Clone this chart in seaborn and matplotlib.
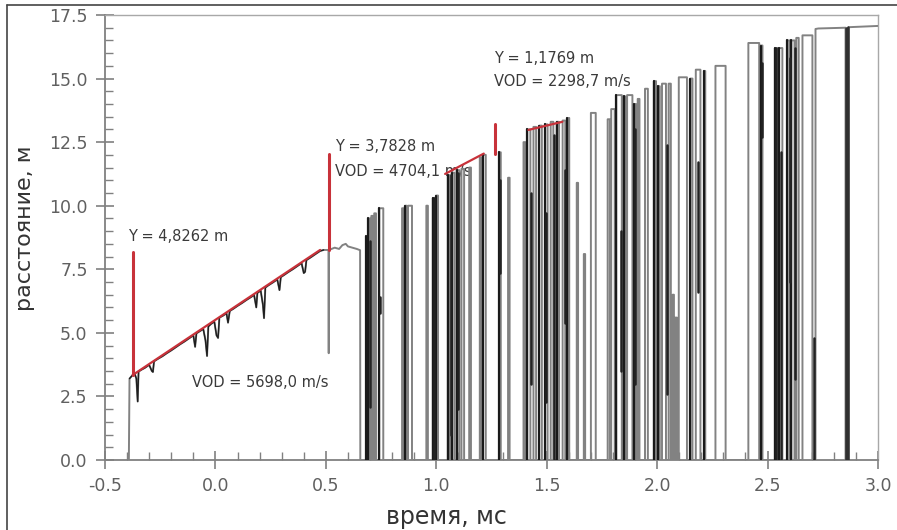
import matplotlib
matplotlib.use("Agg")
import matplotlib.pyplot as plt
from matplotlib.lines import Line2D
from matplotlib.ticker import MultipleLocator, FormatStrFormatter
import seaborn as sns
import pandas as pd

# ---------------- data ----------------
# initial noisy ramp (time, ms ; distance, m)
ramp_t = [-0.392, -0.389, -0.375, -0.365, -0.358, -0.352, -0.348, -0.335, -0.320, -0.300,
          -0.288, -0.283, -0.278, -0.260, -0.240, -0.220, -0.200, -0.180, -0.160, -0.140,
          -0.120, -0.100, -0.092, -0.086, -0.070, -0.055, -0.045, -0.038, -0.032, -0.020,
          -0.005, 0.005, 0.012, 0.018, 0.035, 0.050, 0.057, 0.065, 0.080, 0.100,
          0.120, 0.140, 0.160, 0.175, 0.185, 0.190, 0.205, 0.215, 0.220, 0.226,
          0.240, 0.260, 0.280, 0.290, 0.296, 0.310, 0.330, 0.350, 0.370, 0.390,
          0.400, 0.406, 0.412, 0.430, 0.450, 0.474, 0.490]
ramp_y = [0.00, 3.20, 3.34, 3.38, 3.20, 2.30, 3.48, 3.55, 3.62, 3.74,
          3.50, 3.46, 3.88, 3.98, 4.08, 4.20, 4.31, 4.43, 4.55, 4.66,
          4.78, 4.90, 4.45, 4.98, 5.07, 5.15, 4.70, 4.09, 5.25, 5.35,
          5.44, 4.90, 4.80, 5.60, 5.68, 5.77, 5.40, 5.86, 5.94, 6.06,
          6.17, 6.29, 6.40, 6.49, 6.00, 6.57, 6.66, 6.10, 5.58, 6.78,
          6.87, 6.98, 7.10, 6.68, 7.19, 7.27, 7.39, 7.50, 7.62, 7.74,
          7.35, 7.40, 7.86, 7.96, 8.08, 8.22, 8.26]
# plateau after the first red marker
plat_t = [0.512, 0.513, 0.514, 0.520, 0.540, 0.560, 0.575, 0.590, 0.600, 0.620, 0.640, 0.655, 0.656]
plat_y = [8.26, 4.20, 8.28, 8.28, 8.35, 8.30, 8.45, 8.50, 8.40, 8.35, 8.30, 8.25, 0.00]

# pulses of the trace after 0.65 ms: start, end, top level, dark (overlapping) flag
pulse_on = [0.683, 0.693, 0.706, 0.719, 0.742, 0.845, 0.858, 0.872, 0.955, 0.984,
            0.999, 1.052, 1.070, 1.092, 1.114, 1.149, 1.197, 1.211, 1.284, 1.325,
            1.395, 1.412, 1.440, 1.466, 1.492, 1.518, 1.545, 1.572, 1.594, 1.636,
            1.668, 1.700, 1.776, 1.792, 1.815, 1.848, 1.864, 1.896, 1.912, 1.945,
            1.985, 2.003, 2.022, 2.052, 2.070, 2.082, 2.098, 2.150, 2.175, 2.212,
            2.264, 2.413, 2.468, 2.533, 2.552, 2.590, 2.608, 2.630, 2.658]
pulse_off = [0.689, 0.700, 0.713, 0.727, 0.760, 0.852, 0.866, 0.890, 0.962, 0.994,
             1.008, 1.062, 1.082, 1.104, 1.126, 1.157, 1.205, 1.224, 1.292, 1.332,
             1.404, 1.426, 1.452, 1.478, 1.504, 1.530, 1.556, 1.584, 1.602, 1.642,
             1.674, 1.722, 1.786, 1.808, 1.840, 1.856, 1.888, 1.904, 1.920, 1.958,
             1.995, 2.012, 2.040, 2.062, 2.076, 2.090, 2.135, 2.160, 2.196, 2.218,
             2.310, 2.462, 2.477, 2.545, 2.567, 2.600, 2.622, 2.641, 2.703]
pulse_top = [8.8, 9.5, 9.6, 9.7, 9.9, 9.9, 10.0, 10.0, 10.0, 10.3,
             10.4, 11.2, 11.3, 11.4, 11.45, 11.5, 11.9, 12.0, 12.1, 11.1,
             12.5, 13.0, 13.1, 13.15, 13.2, 13.3, 13.3, 13.35, 13.45, 10.9,
             8.1, 13.65, 13.4, 13.8, 14.35, 14.3, 14.35, 14.0, 14.2, 14.6,
             14.9, 14.7, 14.8, 14.8, 6.5, 5.6, 15.05, 15.0, 15.35, 15.3,
             15.5, 16.4, 16.3, 16.2, 16.2, 16.5, 16.5, 16.6, 16.7]
pulse_dark = [1, 1, 0, 0, 1, 0, 1, 0, 0, 1,
              1, 1, 1, 1, 0, 0, 0, 1, 1, 0,
              0, 1, 0, 1, 1, 0, 1, 0, 1, 0,
              0, 0, 0, 0, 1, 1, 0, 1, 0, 0,
              1, 1, 0, 0, 0, 0, 0, 1, 0, 1,
              0, 0, 1, 1, 1, 1, 1, 0, 0]

# dark partial strokes where the trace overlaps itself
seg_t = [0.700, 0.745, 0.990, 1.066, 1.098, 1.289, 1.430, 1.498, 1.535, 1.585,
         1.838, 1.900, 2.045, 2.187, 2.477, 2.540, 2.562, 2.600, 2.626, 2.708]
seg_lo = [2.1, 5.8, 0.0, 1.0, 2.0, 7.35, 3.0, 2.3, 0.0, 5.4,
          3.5, 3.0, 2.6, 6.6, 12.7, 0.0, 0.0, 7.0, 3.2, 0.0]
seg_hi = [8.6, 6.4, 10.3, 11.2, 11.3, 11.0, 10.5, 9.7, 12.8, 11.4,
          9.0, 13.0, 12.4, 11.7, 15.6, 16.2, 12.1, 15.8, 16.2, 4.8]

# final plateau
tail_t = [2.717, 2.717, 2.730, 2.853, 2.853, 2.866, 2.866, 3.000]
tail_y = [0.00, 16.95, 16.97, 17.00, 0.00, 0.00, 17.02, 17.07]

# red fit lines and marker lines
fit1_t = [-0.375, 0.474]
fit1_y = [3.34, 8.26]
fit2_t = [1.040, 1.215]
fit2_y = [11.25, 12.05]
fit3_t = [1.417, 1.571]
fit3_y = [12.98, 13.30]
mark_t = [-0.375, 0.512, 1.268]
mark_lo = [3.34, 8.26, 12.05]
mark_hi = [8.17, 12.05, 13.23]

ann_text = ["Y = 4,8262 m", "VOD = 5698,0 m/s", "Y = 3,7828 m", "VOD = 4704,1 m/s",
            "Y = 1,1769 m", "VOD = 2298,7 m/s"]
ann_x = [-0.396, -0.106, 0.542, 0.542, 1.263, 1.263]
ann_y = [8.77, 3.03, 12.31, 11.33, 15.80, 14.88]

xticks = [-0.5, 0.0, 0.5, 1.0, 1.5, 2.0, 2.5, 3.0]
yticks = [0.0, 2.5, 5.0, 7.5, 10.0, 12.5, 15.0, 17.5]

# ---------------- build trace ----------------
trace_t = list(ramp_t) + list(plat_t)
trace_y = list(ramp_y) + list(plat_y)
for a, b, h in zip(pulse_on, pulse_off, pulse_top):
    trace_t += [a, a, b, b]
    trace_y += [0.0, h, h, 0.0]
trace_t += tail_t
trace_y += tail_y
df = pd.DataFrame({"t": trace_t, "y": trace_y})

# ---------------- plot ----------------
sns.set_style("ticks")
plt.rcParams["font.family"] = ["DejaVu Sans"]
plt.rcParams["axes.unicode_minus"] = False

fig = plt.figure(figsize=(8.97, 5.30), dpi=100)
ax = fig.add_axes([105 / 897, 1 - 460 / 530, (878 - 105) / 897, (460 - 15) / 530])

for s, x, y in zip(ann_text, ann_x, ann_y):
    ax.text(x, y, s, fontsize=10.5, color="#3a3a3a", ha="left", va="center", zorder=1)

sns.lineplot(data=df, x="t", y="y", sort=False, estimator=None, color="#828282",
             lw=1.4, ax=ax, zorder=3)
# early ramp is drawn darker
sns.lineplot(x=ramp_t[1:], y=ramp_y[1:], sort=False, estimator=None, color="#1e1e1e",
             lw=1.0, ax=ax, zorder=4)
for a, h, d in zip(pulse_on, pulse_top, pulse_dark):
    if d:
        sns.lineplot(x=[a, a], y=[0.0, h], sort=False, estimator=None,
                     color="#1a1a1a", lw=1.6, ax=ax, zorder=4)
for t, lo, hi in zip(seg_t, seg_lo, seg_hi):
    sns.lineplot(x=[t, t], y=[lo, hi], sort=False, estimator=None,
                 color="#222222", lw=1.8, ax=ax, zorder=4)
sns.lineplot(x=[2.853, 2.853, 2.866, 2.866], y=[17.0, 0.0, 0.0, 17.02], sort=False,
             estimator=None, color="#303030", lw=1.8, ax=ax, zorder=4)

red = "#c8323a"
for ft, fy in [(fit1_t, fit1_y), (fit2_t, fit2_y), (fit3_t, fit3_y)]:
    sns.lineplot(x=ft, y=fy, sort=False, estimator=None, color=red, lw=1.6, ax=ax, zorder=5)
for t, lo, hi in zip(mark_t, mark_lo, mark_hi):
    sns.lineplot(x=[t, t], y=[lo, hi], sort=False, estimator=None, color=red, lw=2.2,
                 ax=ax, zorder=5)

ax.set_xlim(-0.5, 3.0)
ax.set_ylim(0, 17.5)
ax.set_xticks(xticks)
ax.set_yticks(yticks)
ax.xaxis.set_minor_locator(MultipleLocator(0.1))
ax.yaxis.set_minor_locator(MultipleLocator(0.5))
ax.xaxis.set_major_formatter(FormatStrFormatter("%.1f"))
ax.yaxis.set_major_formatter(FormatStrFormatter("%.1f"))
ax.tick_params(which="major", direction="inout", length=13, width=1.2, color="#808080",
               labelsize=12.5, labelcolor="#606060", pad=6)
ax.tick_params(which="minor", direction="in", length=6, width=1.0, color="#808080")
for side in ["left", "bottom"]:
    ax.spines[side].set_color("#808080")
    ax.spines[side].set_linewidth(1.3)
for side in ["top", "right"]:
    ax.spines[side].set_visible(True)
    ax.spines[side].set_color("#a8a8a8")
    ax.spines[side].set_linewidth(1.0)

ax.set_xlabel("время, мс", fontsize=17, color="#333333", labelpad=7)
ax.set_ylabel("расстояние, м", fontsize=16, color="#333333", labelpad=10)
ax.xaxis.label.set_x(0.442)
ax.yaxis.label.set_y(0.521)

fig.add_artist(Line2D([7 / 897, 1], [1 - 5 / 530, 1 - 5 / 530], color="#444444", lw=1.2,
                      transform=fig.transFigure))
fig.add_artist(Line2D([7 / 897, 7 / 897], [0, 1 - 5 / 530], color="#444444", lw=1.2,
                      transform=fig.transFigure))

fig.savefig("out.png", dpi=100)
